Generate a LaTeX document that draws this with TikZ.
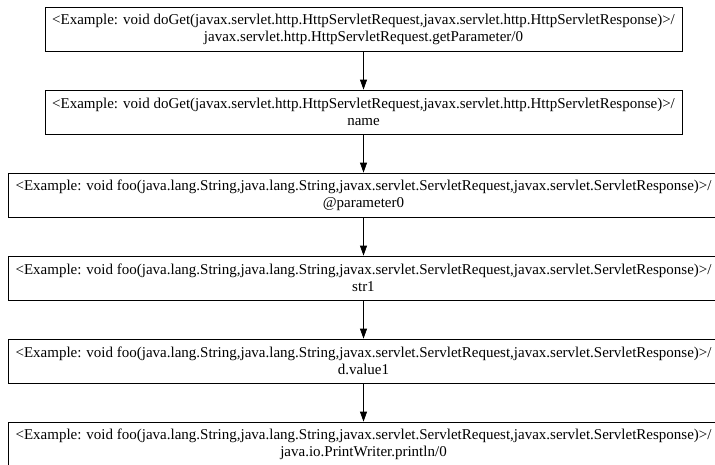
\documentclass[tikz,border=0pt]{standalone}
\usepackage{fontspec}
\setmainfont{Liberation Serif}
\usetikzlibrary{arrows.meta}
\newcommand{\dogetsig}{<Example: void doGet(javax.servlet.http.HttpServletRequest,javax.servlet.http.HttpServletResponse)>/}
\newcommand{\foosig}{<Example: void foo(java.lang.String,java.lang.String,javax.servlet.ServletRequest,javax.servlet.ServletResponse)>/}
\tikzset{
  flowbox/.style={draw,line width=0.8pt,rectangle,align=center,minimum height=44pt,
    inner sep=0pt,font=\fontsize{15}{17}\selectfont},
  flowarrow/.style={line width=0.8pt,-{Triangle[length=10pt,width=7pt]}}
}
\begin{document}
\begin{tikzpicture}[x=1pt,y=-1pt]
      \useasboundingbox (0,0) rectangle (715,464);
      \node[flowbox,minimum width=637pt] (doget) at (363.5,29) {\dogetsig\\javax.servlet.http.HttpServletRequest.getParameter/0};
      \node[flowbox,minimum width=637pt] (name) at (363.5,112) {\dogetsig\\name};
      \node[flowbox,minimum width=711pt] (param) at (363.5,195) {\foosig\\@parameter0};
      \node[flowbox,minimum width=711pt] (strone) at (363.5,278) {\foosig\\str1};
      \node[flowbox,minimum width=711pt] (valueone) at (363.5,361) {\foosig\\d.value1};
      \node[flowbox,minimum width=711pt] (println) at (363.5,444) {\foosig\\java.io.PrintWriter.println/0};
      \foreach \from/\to in {doget/name,name/param,param/strone,strone/valueone,valueone/println}{
        \draw[flowarrow] (\from) -- (\to);
      }
    \end{tikzpicture}
\end{document}
